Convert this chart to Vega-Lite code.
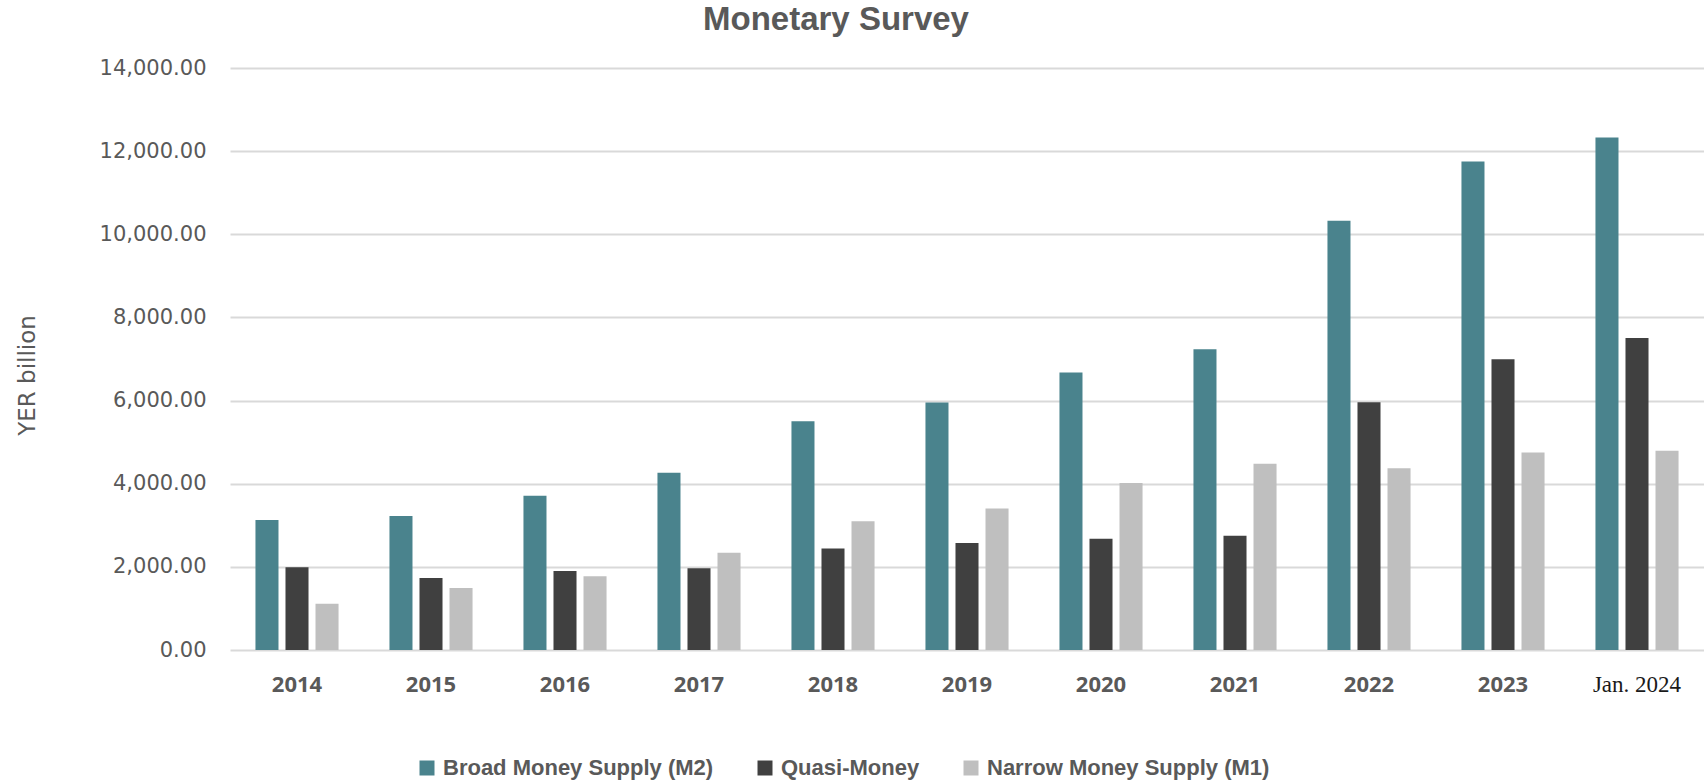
{
  "$schema": "https://vega.github.io/schema/vega-lite/v6.json",
  "autosize": {"type": "none"},
  "padding": {"left": 230, "top": 68, "right": 0, "bottom": 134},
  "width": 1474,
  "height": 582,
  "background": "white",
  "title": {
    "text": "Monetary Survey",
    "font": "Liberation Sans",
    "fontSize": 33,
    "fontWeight": "bold",
    "color": "#595959",
    "anchor": "middle",
    "frame": "group",
    "dx": -131,
    "offset": 20
  },
  "data": {
    "values": [
      {"period": "2014", "series": "Broad Money Supply (M2)", "value": 3129},
      {"period": "2014", "series": "Quasi-Money", "value": 1992},
      {"period": "2014", "series": "Narrow Money Supply (M1)", "value": 1113},
      {"period": "2015", "series": "Broad Money Supply (M2)", "value": 3226},
      {"period": "2015", "series": "Quasi-Money", "value": 1734},
      {"period": "2015", "series": "Narrow Money Supply (M1)", "value": 1492},
      {"period": "2016", "series": "Broad Money Supply (M2)", "value": 3710},
      {"period": "2016", "series": "Quasi-Money", "value": 1903},
      {"period": "2016", "series": "Narrow Money Supply (M1)", "value": 1774},
      {"period": "2017", "series": "Broad Money Supply (M2)", "value": 4266},
      {"period": "2017", "series": "Quasi-Money", "value": 1968},
      {"period": "2017", "series": "Narrow Money Supply (M1)", "value": 2339},
      {"period": "2018", "series": "Broad Money Supply (M2)", "value": 5500},
      {"period": "2018", "series": "Quasi-Money", "value": 2444},
      {"period": "2018", "series": "Narrow Money Supply (M1)", "value": 3097},
      {"period": "2019", "series": "Broad Money Supply (M2)", "value": 5952},
      {"period": "2019", "series": "Quasi-Money", "value": 2573},
      {"period": "2019", "series": "Narrow Money Supply (M1)", "value": 3403},
      {"period": "2020", "series": "Broad Money Supply (M2)", "value": 6677},
      {"period": "2020", "series": "Quasi-Money", "value": 2677},
      {"period": "2020", "series": "Narrow Money Supply (M1)", "value": 4020},
      {"period": "2021", "series": "Broad Money Supply (M2)", "value": 7234},
      {"period": "2021", "series": "Quasi-Money", "value": 2750},
      {"period": "2021", "series": "Narrow Money Supply (M1)", "value": 4480},
      {"period": "2022", "series": "Broad Money Supply (M2)", "value": 10323},
      {"period": "2022", "series": "Quasi-Money", "value": 5960},
      {"period": "2022", "series": "Narrow Money Supply (M1)", "value": 4371},
      {"period": "2023", "series": "Broad Money Supply (M2)", "value": 11750},
      {"period": "2023", "series": "Quasi-Money", "value": 6992},
      {"period": "2023", "series": "Narrow Money Supply (M1)", "value": 4750},
      {"period": "Jan. 2024", "series": "Broad Money Supply (M2)", "value": 12331},
      {"period": "Jan. 2024", "series": "Quasi-Money", "value": 7508},
      {"period": "Jan. 2024", "series": "Narrow Money Supply (M1)", "value": 4790}
    ]
  },
  "mark": {"type": "bar"},
  "encoding": {
    "x": {
      "field": "period",
      "type": "nominal",
      "sort": null,
      "scale": {"paddingInner": 0.38, "paddingOuter": 0.19},
      "axis": {
        "title": null,
        "domain": false,
        "ticks": false,
        "tickSize": 0,
        "labelAngle": 0,
        "labelBaseline": "middle",
        "labelPadding": 34,
        "labelFont": {"condition": {"test": "datum.value === 'Jan. 2024'", "value": "Liberation Serif"}, "value": "Open Sans"},
        "labelFontWeight": {"condition": {"test": "datum.value === 'Jan. 2024'", "value": "normal"}, "value": "bold"},
        "labelFontSize": {"condition": {"test": "datum.value === 'Jan. 2024'", "value": 23}, "value": 22},
        "labelColor": {"condition": {"test": "datum.value === 'Jan. 2024'", "value": "#1a1a1a"}, "value": "#595959"}
      }
    },
    "xOffset": {
      "field": "series",
      "type": "nominal",
      "sort": ["Broad Money Supply (M2)", "Quasi-Money", "Narrow Money Supply (M1)"],
      "scale": {"paddingInner": 0.233, "paddingOuter": 0}
    },
    "y": {
      "field": "value",
      "type": "quantitative",
      "scale": {"domain": [0, 14000], "nice": false},
      "axis": {
        "title": "YER billion",
        "titleFont": "DejaVu Sans",
        "titleFontSize": 23,
        "titleFontWeight": "normal",
        "titleColor": "#595959",
        "titleX": -203,
        "titleY": 307,
        "titleAngle": 270,
        "titleBaseline": "middle",
        "titleAlign": "center",
        "values": [0, 2000, 4000, 6000, 8000, 10000, 12000, 14000],
        "format": ",.2f",
        "labelFont": "DejaVu Sans",
        "labelFontSize": 21,
        "labelColor": "#595959",
        "labelPadding": 24,
        "domain": false,
        "ticks": false,
        "tickSize": 0,
        "grid": true,
        "gridColor": "#D9D9D9",
        "gridWidth": 2
      }
    },
    "color": {
      "field": "series",
      "type": "nominal",
      "sort": ["Broad Money Supply (M2)", "Quasi-Money", "Narrow Money Supply (M1)"],
      "scale": {
        "domain": ["Broad Money Supply (M2)", "Quasi-Money", "Narrow Money Supply (M1)"],
        "range": ["#4A838D", "#404040", "#BFBFBF"]
      },
      "legend": {
        "title": null,
        "orient": "none",
        "direction": "horizontal",
        "legendX": 186,
        "legendY": 689,
        "symbolType": "square",
        "symbolSize": 225,
        "symbolStrokeWidth": 0,
        "labelOffset": 5,
        "columnPadding": 40,
        "padding": 0,
        "labelFont": "Liberation Sans",
        "labelFontSize": 22,
        "labelFontWeight": "bold",
        "labelColor": "#595959",
        "labelLimit": 400
      }
    }
  },
  "config": {
    "view": {"stroke": null}
  }
}
